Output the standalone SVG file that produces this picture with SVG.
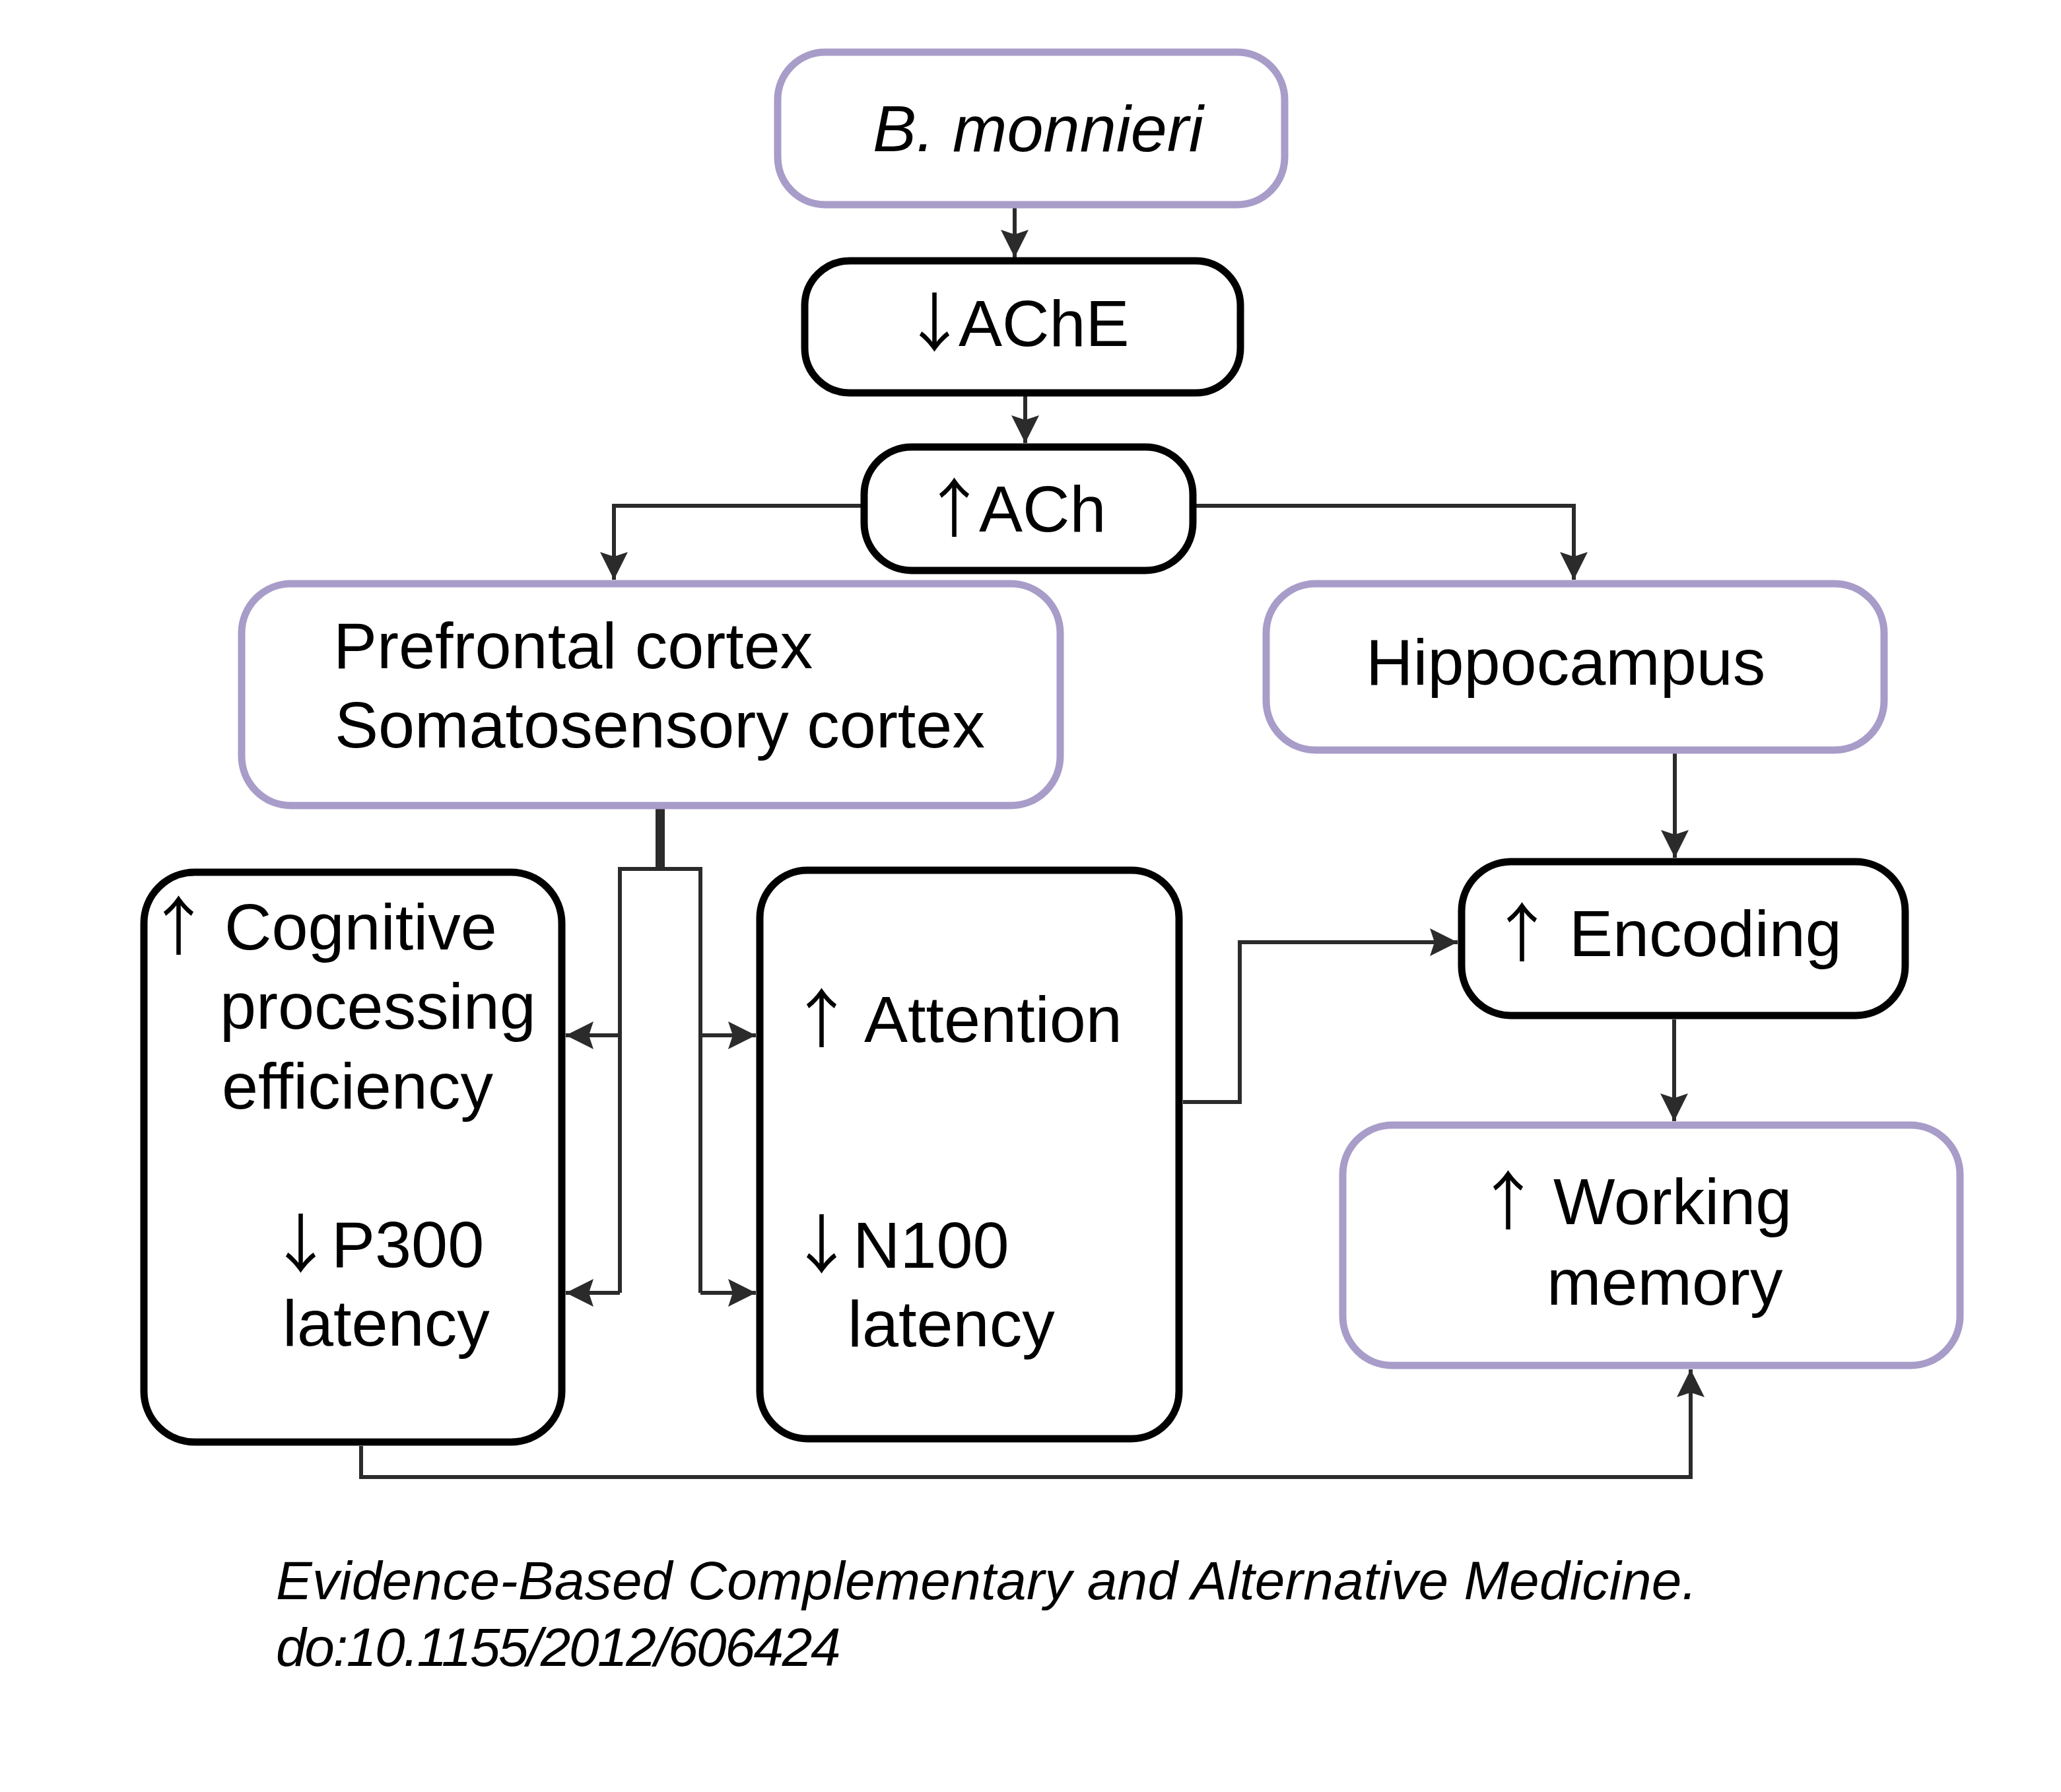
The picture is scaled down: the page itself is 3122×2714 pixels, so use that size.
<svg xmlns="http://www.w3.org/2000/svg" width="3122" height="2714" viewBox="0 0 3122 2714">
<style>
.t{font-family:"Liberation Sans",Arial,sans-serif;font-size:99px;fill:#000}
.it{font-style:italic}
.ar{font-family:"Noto Sans CJK JP","Liberation Sans",sans-serif;font-size:97px}
.cite{font-family:"Liberation Sans",Arial,sans-serif;font-size:82px;font-style:italic;fill:#000}
.pb{fill:#fff;stroke:#a89cc9;stroke-width:11}
.bb{fill:#fff;stroke:#000;stroke-width:11}
.c{fill:none;stroke:#2b2b2b;stroke-width:6}
.thick{fill:none;stroke:#2b2b2b;stroke-width:14}
</style>
<defs>
<marker id="ah" markerUnits="userSpaceOnUse" markerWidth="44" markerHeight="42" refX="42" refY="21" orient="auto" viewBox="0 0 44 42">
<path d="M0,0 L42,21 L0,42 L7,21 z" fill="#2b2b2b"/>
</marker>
</defs>
<rect width="3122" height="2714" fill="#fff"/>
<g id="connectors">
<path class="c" d="M1537,312 V390" marker-end="url(#ah)"/>
<path class="c" d="M1553,600 V671" marker-end="url(#ah)"/>
<path class="c" d="M1304,766 H930 V878" marker-end="url(#ah)"/>
<path class="c" d="M1812,766 H2384 V878" marker-end="url(#ah)"/>
<path class="thick" d="M1000,1225 V1319"/>
<path class="c" d="M939,1958 V1316 H1061 V1958"/>
<path class="c" d="M939,1568 H857" marker-end="url(#ah)"/>
<path class="c" d="M939,1958 H857" marker-end="url(#ah)"/>
<path class="c" d="M1061,1568 H1145" marker-end="url(#ah)"/>
<path class="c" d="M1061,1958 H1145" marker-end="url(#ah)"/>
<path class="c" d="M1792,1669 H1878 V1427 H2208" marker-end="url(#ah)"/>
<path class="c" d="M2537,1141 V1299" marker-end="url(#ah)"/>
<path class="c" d="M2536,1544 V1698" marker-end="url(#ah)"/>
<path class="c" d="M547,2190 V2237 H2561 V2074" marker-end="url(#ah)"/>
</g>
<g id="node-bmonnieri">
<rect class="pb" x="1178" y="79" width="768" height="231" rx="72"/>
<text class="t it" x="1322" y="229" font-size="97">B. monnieri</text>
</g>
<g id="node-ache">
<rect class="bb" x="1219" y="395" width="660" height="200" rx="68"/>
<text class="t" x="1367" y="524"><tspan class="ar">↓</tspan><tspan x="1452">AChE</tspan></text>
</g>
<g id="node-ach">
<rect class="bb" x="1309" y="677" width="498" height="187" rx="72"/>
<text class="t" x="1397" y="805"><tspan class="ar">↑</tspan><tspan x="1483">ACh</tspan></text>
</g>
<g id="node-cortex">
<rect class="pb" x="366" y="884" width="1240" height="336" rx="75"/>
<text class="t" x="505" y="1012">Prefrontal cortex</text>
<text class="t" x="507" y="1132">Somatosensory cortex</text>
</g>
<g id="node-hippocampus">
<rect class="pb" x="1918" y="884" width="936" height="252" rx="75"/>
<text class="t" x="2069" y="1037">Hippocampus</text>
</g>
<g id="node-cognitive">
<rect class="bb" x="218" y="1321" width="633" height="863" rx="77"/>
<text class="t" x="222" y="1438"><tspan class="ar">↑</tspan> <tspan x="340">Cognitive</tspan></text>
<text class="t" x="333" y="1558">processing</text>
<text class="t" x="336" y="1679">efficiency</text>
<text class="t" x="407" y="1919"><tspan class="ar">↓</tspan><tspan x="502">P300</tspan></text>
<text class="t" x="428" y="2038">latency</text>
</g>
<g id="node-attention">
<rect class="bb" x="1151" y="1318" width="635" height="861" rx="72"/>
<text class="t" x="1196" y="1578"><tspan class="ar">↑</tspan> <tspan x="1309">Attention</tspan></text>
<text class="t" x="1196" y="1920"><tspan class="ar">↓</tspan><tspan x="1292">N100</tspan></text>
<text class="t" x="1284" y="2039">latency</text>
</g>
<g id="node-encoding">
<rect class="bb" x="2214" y="1305" width="672" height="233" rx="75"/>
<text class="t" x="2257" y="1448"><tspan class="ar">↑</tspan> <tspan x="2377">Encoding</tspan></text>
</g>
<g id="node-working-memory">
<rect class="pb" x="2034" y="1704" width="935" height="364" rx="75"/>
<text class="t" x="2236" y="1854"><tspan class="ar">↑</tspan> <tspan x="2353">Working</tspan></text>
<text class="t" x="2343" y="1976">memory</text>
</g>
<g id="citation">
<text class="cite" x="418" y="2422" letter-spacing="0.25">Evidence-Based Complementary and Alternative Medicine.</text>
<text class="cite" x="418" y="2523" letter-spacing="-2.4">do:10.1155/2012/606424</text>
</g>
</svg>
